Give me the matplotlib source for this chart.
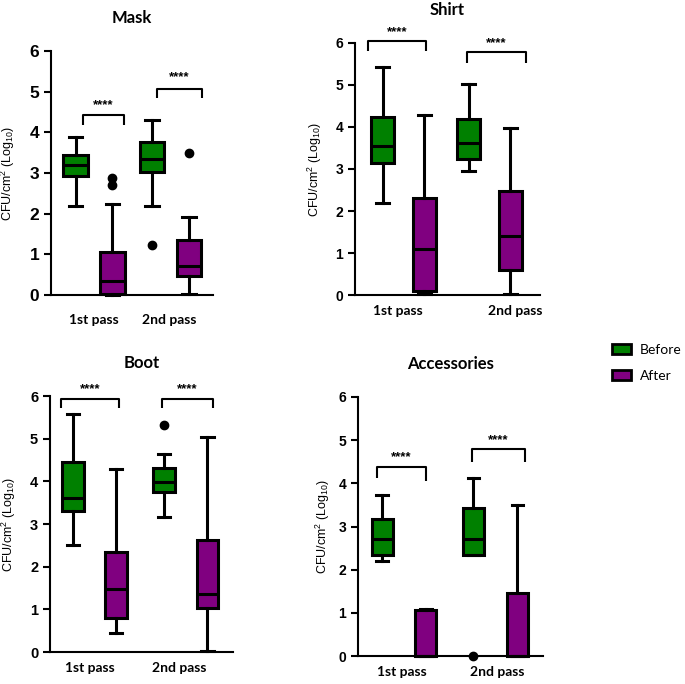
import matplotlib
matplotlib.use("Agg")
import matplotlib.pyplot as plt
from matplotlib.patches import Patch

plt.rcParams['font.family'] = ['Liberation Sans', 'DejaVu Sans']
plt.rcParams['mathtext.fontset'] = 'custom'
plt.rcParams['mathtext.rm'] = 'Liberation Sans'
plt.rcParams['mathtext.default'] = 'regular'

GREEN = "#008000"
PURPLE = "#800080"

groups = ["1st pass", "2nd pass"]
series = ["Before", "After"]

# five-number summaries: [whisker low, q1, median, q3, whisker high]
# order: 1st before, 1st after, 2nd before, 2nd after
mask_stats = [[2.2, 2.93, 3.2, 3.45, 3.88], [0.0, 0.03, 0.35, 1.05, 2.25],
              [2.2, 3.03, 3.35, 3.77, 4.3], [0.02, 0.47, 0.72, 1.35, 1.92]]
mask_fliers = [[], [2.7, 2.88], [1.23], [3.5]]

shirt_stats = [[2.2, 3.15, 3.55, 4.25, 5.43], [0.02, 0.1, 1.1, 2.3, 4.28],
               [2.95, 3.25, 3.62, 4.2, 5.02], [0.02, 0.6, 1.4, 2.47, 3.97]]
shirt_fliers = [[], [], [], []]

boot_stats = [[2.5, 3.3, 3.6, 4.45, 5.58], [0.45, 0.8, 1.47, 2.35, 4.3],
              [3.17, 3.75, 3.98, 4.32, 4.65], [0.02, 1.03, 1.37, 2.62, 5.03]]
boot_fliers = [[], [], [5.32], []]

acc_stats = [[2.2, 2.33, 2.72, 3.18, 3.72], [0.0, 0.0, 0.0, 1.07, 1.1],
             [2.33, 2.33, 2.72, 3.42, 4.13], [0.0, 0.0, 0.0, 1.47, 3.5]]
acc_fliers = [[], [], [0.0], []]

# significance brackets: (top, left end, right end, star height) per pass
mask_sig = [(4.43, 4.18, 4.18, 4.67), (5.07, 4.84, 4.84, 5.36)]
shirt_sig = [(6.05, 5.81, 5.81, 6.26), (5.79, 5.52, 5.52, 6.0)]
boot_sig = [(5.93, 5.72, 5.72, 6.16), (5.93, 5.72, 5.72, 6.16)]
acc_sig = [(4.37, 4.12, 4.05, 4.6), (4.8, 4.5, 4.5, 5.0)]

W, H = 685, 684
fig = plt.figure(figsize=(W / 100, H / 100), dpi=100)


def px_rect(left, right, top, bottom):
    return [left / W, 1 - bottom / H, (right - left) / W, (bottom - top) / H]


panels = [
    # title, stats, fliers, sig, rect, xlim, box width, bracket x, label x, tick size, xlabel pad, ylabel x
    ("Mask", mask_stats, mask_fliers, mask_sig, px_rect(51, 213, 51, 295),
     (0.438, 2.556), 0.32, [(0.86, 1.39), (1.82, 2.41)], [1.0, 1.99], 12.5, 14, -0.21),
    ("Shirt", shirt_stats, shirt_fliers, shirt_sig, px_rect(355, 540, 43, 295),
     (0.436, 2.587), 0.27, [(0.59, 1.26), (1.74, 2.42)], [0.94, 2.30], 10, 7, -0.165),
    ("Boot", boot_stats, boot_fliers, boot_sig, px_rect(50, 233, 396, 652),
     (0.511, 2.52), 0.24, [(0.63, 1.27), (1.74, 2.30)], [0.95, 1.93], 10.5, 7, -0.175),
    ("Accessories", acc_stats, acc_fliers, acc_sig, px_rect(358, 543, 397, 656),
     (0.497, 2.52), 0.23, [(0.705, 1.24), (1.74, 2.32)], [0.98, 2.02], 10, 7, -0.14),
]

offset = 0.24
positions = [1 - offset, 1 + offset, 2 - offset, 2 + offset]
colors = [GREEN, PURPLE, GREEN, PURPLE]

for (title, stats, fliers, sig, rect, xlim, bw, brx, lx, tsize, xpad, ylx) in panels:
    ax = fig.add_axes(rect)
    bstats = []
    for s, f in zip(stats, fliers):
        bstats.append(dict(whislo=s[0], q1=s[1], med=s[2], q3=s[3], whishi=s[4], fliers=f))
    art = ax.bxp(bstats, positions=positions, widths=bw, capwidths=bw * 0.55,
                 patch_artist=True, showfliers=True,
                 boxprops=dict(edgecolor="black", linewidth=2.2),
                 medianprops=dict(color="black", linewidth=2.2),
                 whiskerprops=dict(color="black", linewidth=2.2),
                 capprops=dict(color="black", linewidth=2.2),
                 flierprops=dict(marker="o", markerfacecolor="black",
                                 markeredgecolor="black", markersize=6))
    for patch, c in zip(art["boxes"], colors):
        patch.set_facecolor(c)
    for key in art:
        for a in art[key]:
            a.set_clip_on(False)
            a.set_zorder(3)

    for (x0, x1), (top, yl, yr, ys) in zip(brx, sig):
        ax.plot([x0, x0, x1, x1], [yl, top, top, yr], color="black", lw=1.5,
                clip_on=False, solid_capstyle="butt")
        ax.text((x0 + x1) / 2, ys, "****", ha="center", va="center",
                fontsize=9.5, fontweight="bold", clip_on=False)

    ax.set_xlim(*xlim)
    ax.set_ylim(0, 6)
    ax.set_yticks(range(0, 7))
    ax.set_xticks(lx)
    ax.set_xticklabels(groups, family=["Lato", "DejaVu Sans"], fontsize=10,
                       fontweight="bold")
    ax.tick_params(axis="x", length=0, pad=xpad)
    ax.tick_params(axis="y", direction="out", length=5, width=1.5, labelsize=tsize)
    for lab in ax.get_yticklabels():
        lab.set_fontweight("bold")
    for side in ("top", "right"):
        ax.spines[side].set_visible(False)
    for side in ("left", "bottom"):
        ax.spines[side].set_linewidth(1.5)
    ax.set_ylabel("CFU/cm$^2$ (Log$_{10}$)", fontsize=9)
    ax.yaxis.set_label_coords(ylx, 0.5)
    ax.set_title(title, fontsize=12, fontweight="bold",
                 family=["Lato", "DejaVu Sans"], pad=20)

handles = [Patch(facecolor=GREEN, edgecolor="black", linewidth=2, label=series[0]),
           Patch(facecolor=PURPLE, edgecolor="black", linewidth=2, label=series[1])]
fig.legend(handles=handles, loc="upper left", bbox_to_anchor=(612 / W, 1 - 344 / H),
           frameon=False, borderpad=0, borderaxespad=0, handlelength=1.4,
           handleheight=0.7, handletextpad=0.6, labelspacing=1.0,
           prop=dict(family=["Lato", "DejaVu Sans"], size=10))

fig.savefig("out.png", dpi=100)
